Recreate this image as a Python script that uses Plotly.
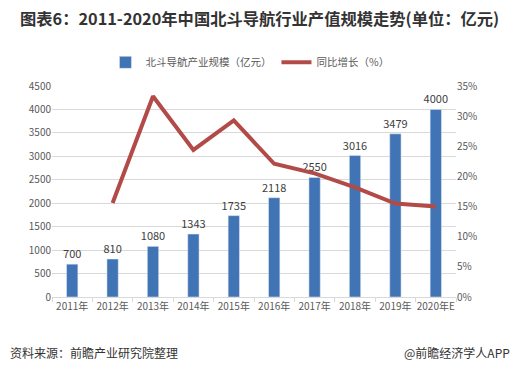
import plotly.graph_objects as go

years = ["2011年", "2012年", "2013年", "2014年", "2015年", "2016年", "2017年", "2018年", "2019年", "2020年E"]
scale = [700, 810, 1080, 1343, 1735, 2118, 2550, 3016, 3479, 4000]
growth_years = years[1:]
growth = [0.156, 0.333, 0.244, 0.293, 0.221, 0.205, 0.182, 0.155, 0.150]

FONT = "Noto Sans CJK SC, Microsoft YaHei, sans-serif"

fig = go.Figure()
fig.add_trace(go.Bar(
    x=years, y=scale, name="北斗导航产业规模（亿元）",
    marker=dict(color="#4174B4"), width=0.28,
    text=[str(v) for v in scale], textposition="outside", constraintext="none",
    textfont=dict(size=11, color="#404040", family=FONT),
    cliponaxis=False,
))
fig.add_trace(go.Scatter(
    x=growth_years, y=growth, name="同比增长（%）", yaxis="y2",
    mode="lines", line=dict(color="#B24B48", width=4),
))

fig.update_layout(
    width=518, height=375,
    margin=dict(l=52, r=62, t=86, b=78),
    paper_bgcolor="white", plot_bgcolor="white",
    font=dict(family=FONT, size=10, color="#595959"),
    showlegend=True,
    legend=dict(orientation="h", x=0.49, xanchor="center", y=1.112, yanchor="middle",
                font=dict(size=10.5, color="#595959", family=FONT), itemwidth=30,
                bgcolor="rgba(0,0,0,0)"),
    bargap=0.5,
    xaxis=dict(type="category", showgrid=False, showline=True, linecolor="#D9D9D9",
               ticks="outside", tickson="boundaries", ticklen=4, tickcolor="#D9D9D9",
               tickangle=0, tickfont=dict(size=10, color="#595959")),
    yaxis=dict(range=[0, 4500], dtick=500, showgrid=True, gridcolor="#D9D9D9",
               zeroline=False, showline=False, tickfont=dict(size=10, color="#595959")),
    yaxis2=dict(range=[0, 0.35], dtick=0.05, tickformat=".0%", overlaying="y", side="right",
                showgrid=False, zeroline=False, showline=False,
                tickfont=dict(size=10, color="#595959")),
    annotations=[
        dict(text="<b>图表6：2011-2020年中国北斗导航行业产值规模走势(单位：亿元)</b>",
             xref="paper", yref="paper", x=-34/404, y=(297-18)/211, xanchor="left", yanchor="middle",
             showarrow=False, font=dict(size=16.3, color="#333333", family=FONT)),
        dict(text="资料来源：前瞻产业研究院整理",
             xref="paper", yref="paper", x=-44/404, y=(297-352)/211, xanchor="left", yanchor="middle",
             showarrow=False, font=dict(size=12, color="#333333", family=FONT)),
        dict(text="@前瞻经济学人APP",
             xref="paper", yref="paper", x=(512-52)/404, y=(297-352)/211, xanchor="right", yanchor="middle",
             showarrow=False, font=dict(size=12, color="#333333", family=FONT)),
    ],
)

fig.write_html("out.html", config={"displayModeBar": False},
               post_script="document.body.style.margin='0';")
